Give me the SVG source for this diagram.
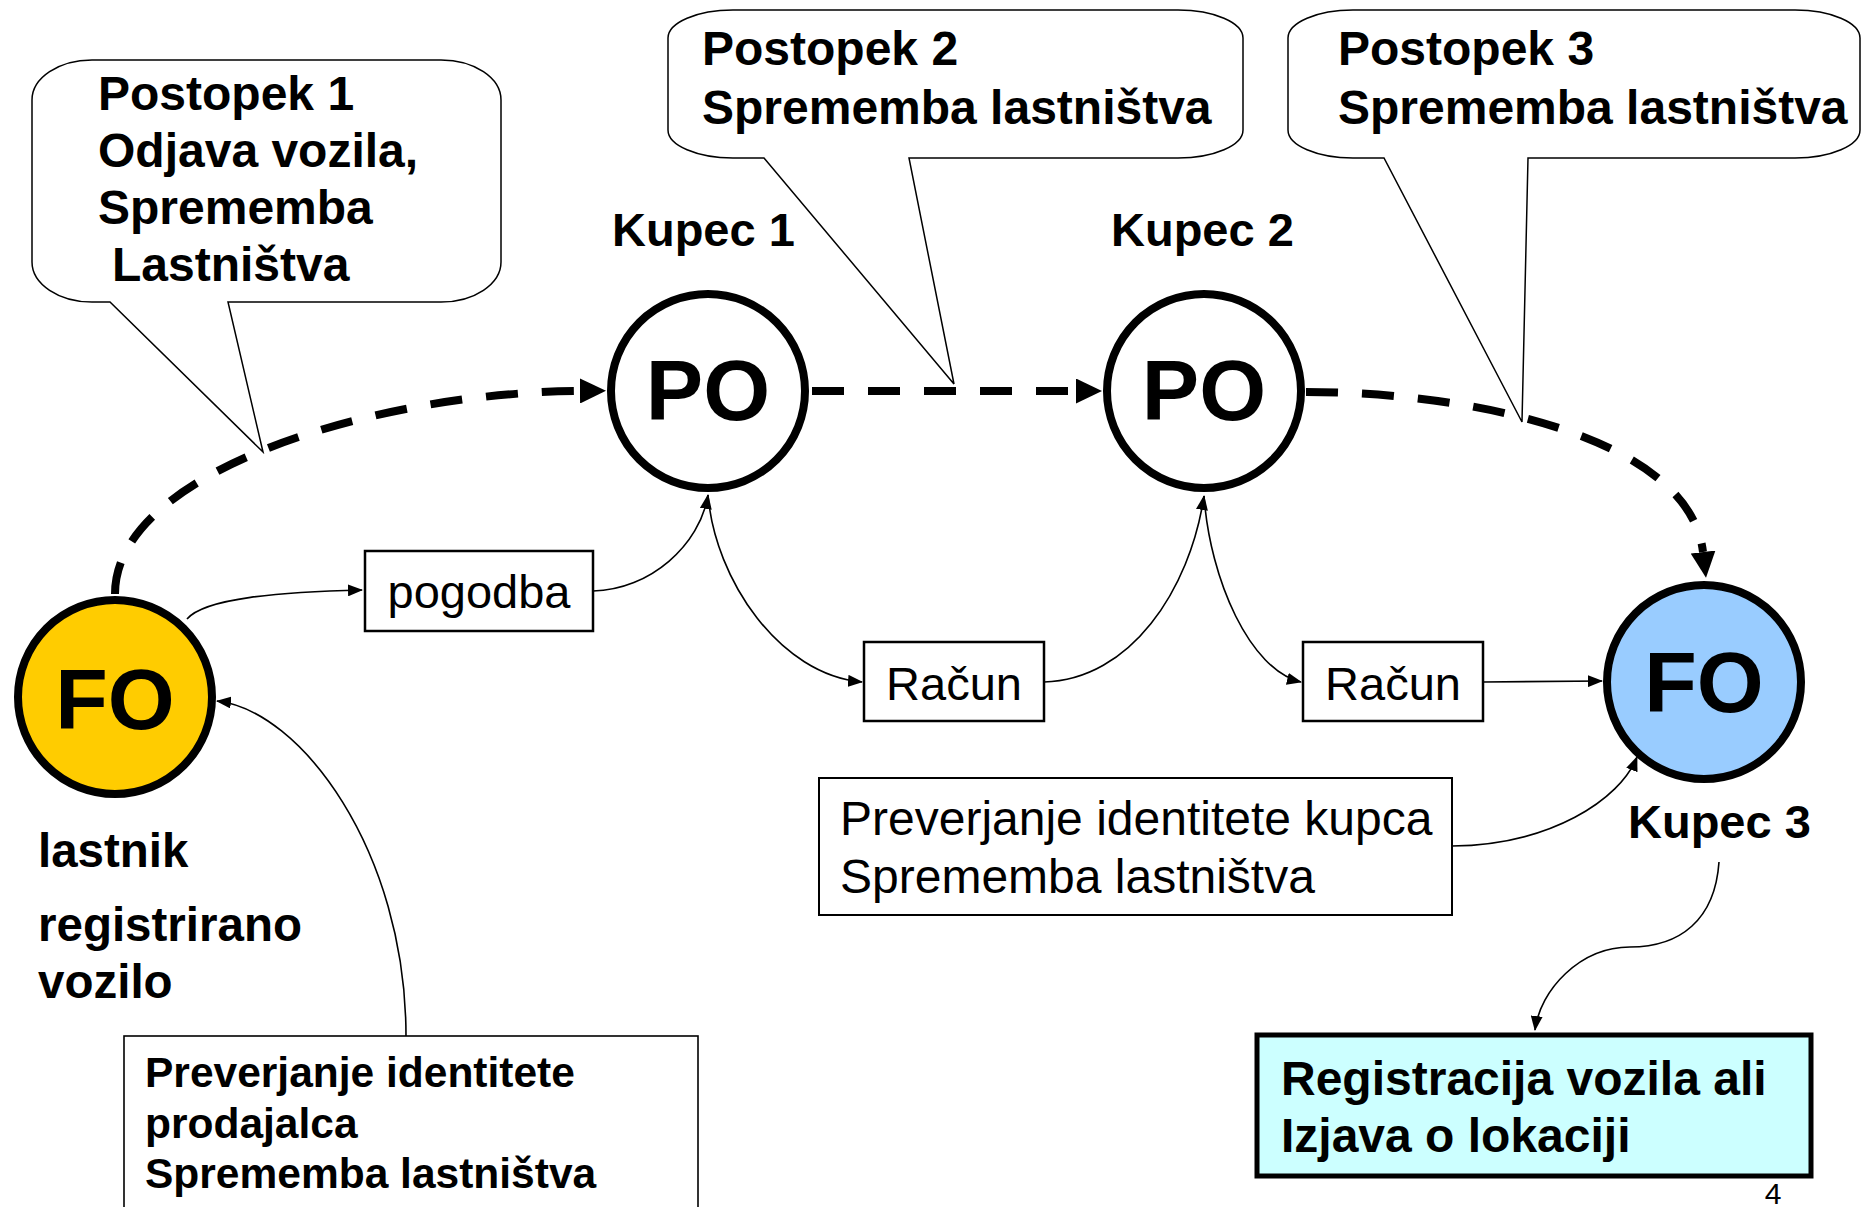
<svg xmlns="http://www.w3.org/2000/svg" width="1863" height="1207" viewBox="0 0 1863 1207">
<style>
.bold{font-family:"Liberation Sans",Arial,sans-serif;font-weight:bold;fill:#000}
.reg{font-family:"Liberation Sans",Arial,sans-serif;fill:#000}
.callout{fill:#fff;stroke:#000;stroke-width:1.5}
.thin{fill:none;stroke:#000;stroke-width:1.6}
.dash{fill:none;stroke:#000;stroke-width:8;stroke-dasharray:32 24}
.circ{stroke:#000;stroke-width:8}
.box{fill:#fff;stroke:#000;stroke-width:2.5}
</style>
<defs>
<marker id="ah" markerUnits="userSpaceOnUse" markerWidth="15" markerHeight="12" refX="14" refY="6" orient="auto">
<path d="M0,0 L15,6 L0,12 z" fill="#000"/>
</marker>
<marker id="ahb" markerUnits="userSpaceOnUse" markerWidth="26" markerHeight="25" refX="0" refY="12.5" orient="auto">
<path d="M0,0 L26,12.5 L0,25 z" fill="#000"/>
</marker>
</defs>
<rect width="1863" height="1207" fill="#fff"/>

<g id="connectors">
<path class="dash" d="M115,594 C115,470 380,392 580,391" marker-end="url(#ahb)"/>
<path class="dash" d="M812,391 L1076,391" marker-end="url(#ahb)"/>
<path class="dash" d="M1306,392 C1480,392 1690,440 1703,552" marker-end="url(#ahb)"/>
<path class="thin" d="M187,619 C205,598 280,592 362,590" marker-end="url(#ah)"/>
<path class="thin" d="M593,591 C650,590 700,545 708,495" marker-end="url(#ah)"/>
<path class="thin" d="M708,495 C715,580 780,675 862,682" marker-end="url(#ah)"/>
<path class="thin" d="M1044,682 C1130,680 1190,590 1204,496" marker-end="url(#ah)"/>
<path class="thin" d="M1204,496 C1210,580 1250,670 1301,682" marker-end="url(#ah)"/>
<path class="thin" d="M1483,682 L1602,681" marker-end="url(#ah)"/>
<path class="thin" d="M1452,846 C1550,845 1620,800 1637,757" marker-end="url(#ah)"/>
<path class="thin" d="M1719,862 C1715,920 1680,947 1630,947 C1580,947 1540,990 1535,1030" marker-end="url(#ah)"/>
<path class="thin" d="M406,1036 C406,850 300,710 217,701" marker-end="url(#ah)"/>
</g>

<g id="callout1">
<path class="callout" d="M92,60 H441 A60 40 0 0 1 501,100 V262 A60 40 0 0 1 441,302 H228 L263,452 L110,302 H92 A60 40 0 0 1 32,262 V100 A60 40 0 0 1 92,60 Z"/>
<text class="bold" font-size="48" x="98" y="110">Postopek 1</text>
<text class="bold" font-size="48" x="98" y="167">Odjava vozila,</text>
<text class="bold" font-size="48" x="98" y="224">Sprememba</text>
<text class="bold" font-size="48" x="112" y="281">Lastništva</text>
</g>

<g id="callout2">
<path class="callout" d="M733,10 H1178 A65 28 0 0 1 1243,38 V130 A65 28 0 0 1 1178,158 H909 L954,384 L764,158 H733 A65 28 0 0 1 668,130 V38 A65 28 0 0 1 733,10 Z"/>
<text class="bold" font-size="48" x="702" y="65">Postopek 2</text>
<text class="bold" font-size="48" x="702" y="124">Sprememba lastništva</text>
</g>

<g id="callout3">
<path class="callout" d="M1353,10 H1795 A65 28 0 0 1 1860,38 V130 A65 28 0 0 1 1795,158 H1528 L1522,422 L1384,158 H1353 A65 28 0 0 1 1288,130 V38 A65 28 0 0 1 1353,10 Z"/>
<text class="bold" font-size="48" x="1338" y="65">Postopek 3</text>
<text class="bold" font-size="48" x="1338" y="124">Sprememba lastništva</text>
</g>

<g id="fo-left">
<circle class="circ" cx="115" cy="697" r="97" fill="#FFCC00"/>
<text class="bold" font-size="86" x="115" y="729" text-anchor="middle">FO</text>
<text class="bold" font-size="47.5" x="38" y="867">lastnik</text>
<text class="bold" font-size="47.5" x="38" y="941">registrirano</text>
<text class="bold" font-size="47.5" x="38" y="998">vozilo</text>
</g>

<g id="po1">
<circle class="circ" cx="708" cy="391" r="97" fill="#fff"/>
<text class="bold" font-size="86" x="708" y="420" text-anchor="middle">PO</text>
<text class="bold" font-size="47" x="612" y="246">Kupec 1</text>
</g>

<g id="po2">
<circle class="circ" cx="1204" cy="391" r="97" fill="#fff"/>
<text class="bold" font-size="86" x="1204" y="420" text-anchor="middle">PO</text>
<text class="bold" font-size="47" x="1111" y="246">Kupec 2</text>
</g>

<g id="fo-right">
<circle class="circ" cx="1704" cy="682" r="97" fill="#99CCFF"/>
<text class="bold" font-size="86" x="1704" y="712" text-anchor="middle">FO</text>
<text class="bold" font-size="47" x="1628" y="838">Kupec 3</text>
</g>

<g id="pogodba">
<rect class="box" x="365" y="551" width="228" height="80"/>
<text class="reg" font-size="47" x="479" y="608" text-anchor="middle">pogodba</text>
</g>

<g id="racun1">
<rect class="box" x="864" y="642" width="180" height="79"/>
<text class="reg" font-size="47" x="954" y="700" text-anchor="middle">Račun</text>
</g>

<g id="racun2">
<rect class="box" x="1303" y="642" width="180" height="79"/>
<text class="reg" font-size="47" x="1393" y="700" text-anchor="middle">Račun</text>
</g>

<g id="preverjanje-kupca">
<rect x="819" y="778" width="633" height="137" fill="#fff" stroke="#000" stroke-width="2"/>
<text class="reg" font-size="48" x="840" y="835">Preverjanje identitete kupca</text>
<text class="reg" font-size="48" x="840" y="893">Sprememba lastništva</text>
</g>

<g id="preverjanje-prodajalca">
<rect x="124" y="1036" width="574" height="180" fill="#fff" stroke="#000" stroke-width="1.6"/>
<text class="bold" font-size="42.5" x="145" y="1087">Preverjanje identitete</text>
<text class="bold" font-size="42.5" x="145" y="1138">prodajalca</text>
<text class="bold" font-size="42.5" x="145" y="1188">Sprememba lastništva</text>
</g>

<g id="registracija">
<rect x="1257" y="1035" width="554" height="141" fill="#CCFFFF" stroke="#000" stroke-width="5"/>
<text class="bold" font-size="48" x="1281" y="1095">Registracija vozila ali</text>
<text class="bold" font-size="48" x="1281" y="1152">Izjava o lokaciji</text>
</g>

<text class="reg" font-size="30" x="1773" y="1204" text-anchor="middle">4</text>
</svg>
